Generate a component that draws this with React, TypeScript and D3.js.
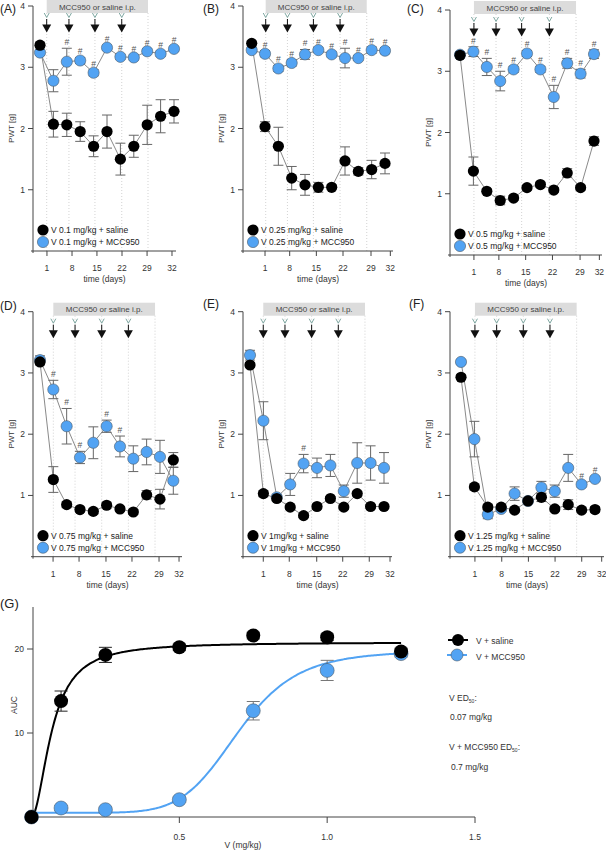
import React from "react";
import * as d3 from "d3";

// x tick labels (days) shared by panels A-F
const dayLabels = ["1", "8", "15", "22", "29", "32"];

// (A) V 0.1 mg/kg
const salineA = [3.36, 2.07, 2.06, 1.95, 1.71, 1.95, 1.5, 1.71, 2.06, 2.2, 2.28];
const salineErrA = [0.04, 0.21, 0.19, 0.16, 0.17, 0.27, 0.26, 0.18, 0.32, 0.27, 0.19];
const mccA = [3.24, 2.78, 3.09, 3.11, 2.91, 3.32, 3.17, 3.16, 3.26, 3.22, 3.3];
const mccErrA = [0.04, 0.18, 0.22, 0.05, 0.05, 0.04, 0.04, 0.04, 0.04, 0.04, 0.04];
const sigA = [2, 3, 4, 5, 6, 7, 8, 9, 10];

// (B) V 0.25 mg/kg
const salineB = [3.39, 2.03, 1.71, 1.19, 1.08, 1.04, 1.04, 1.47, 1.3, 1.33, 1.43];
const salineErrB = [0.04, 0.08, 0.31, 0.19, 0.17, 0.08, 0.04, 0.23, 0.06, 0.15, 0.17];
const mccB = [3.28, 3.22, 2.98, 3.07, 3.21, 3.28, 3.21, 3.15, 3.15, 3.28, 3.27];
const mccErrB = [0.04, 0.05, 0.05, 0.05, 0.08, 0.04, 0.04, 0.16, 0.04, 0.05, 0.05];
const sigB = [1, 2, 3, 4, 5, 6, 7, 8, 9, 10];

// (C) V 0.5 mg/kg
const salineC = [3.26, 1.37, 1.04, 0.89, 0.93, 1.1, 1.15, 1.06, 1.34, 1.1, 1.86];
const salineErrC = [0.05, 0.23, 0.04, 0.07, 0.04, 0.04, 0.04, 0.04, 0.07, 0.04, 0.07];
const mccC = [3.27, 3.32, 3.07, 2.84, 3.03, 3.29, 3.03, 2.58, 3.13, 2.96, 3.28];
const mccErrC = [0.05, 0.08, 0.14, 0.16, 0.05, 0.05, 0.05, 0.19, 0.08, 0.07, 0.07];
const sigC = [1, 2, 3, 4, 5, 6, 7, 8, 9, 10];

// (D) V 0.75 mg/kg
const salineD = [3.18, 1.26, 0.85, 0.77, 0.74, 0.84, 0.78, 0.73, 1.01, 0.94, 1.58];
const salineErrD = [0.05, 0.21, 0.05, 0.04, 0.04, 0.05, 0.04, 0.04, 0.07, 0.16, 0.12];
const mccD = [3.21, 2.73, 2.13, 1.62, 1.86, 2.13, 1.8, 1.6, 1.71, 1.63, 1.24];
const mccErrD = [0.07, 0.15, 0.29, 0.1, 0.26, 0.1, 0.17, 0.21, 0.21, 0.27, 0.22];
const sigD = [1, 2, 3, 5, 6];

// (E) V 1 mg/kg
const salineE = [3.13, 1.03, 0.95, 0.81, 0.67, 0.82, 0.95, 0.81, 1.03, 0.82, 0.82];
const salineErrE = [0.04, 0.05, 0.04, 0.03, 0.03, 0.04, 0.03, 0.03, 0.04, 0.03, 0.03];
const mccE = [3.29, 2.22, 0.97, 1.18, 1.52, 1.45, 1.49, 1.07, 1.53, 1.53, 1.45];
const mccErrE = [0.08, 0.31, 0.05, 0.18, 0.15, 0.16, 0.18, 0.1, 0.33, 0.28, 0.25];
const sigE = [4];

// (F) V 1.25 mg/kg
const salineF = [2.93, 1.14, 0.81, 0.81, 0.76, 0.91, 0.97, 0.78, 0.85, 0.76, 0.77];
const salineErrF = [0.04, 0.05, 0.04, 0.04, 0.04, 0.04, 0.07, 0.04, 0.08, 0.04, 0.05];
const mccF = [3.18, 1.92, 0.69, 0.78, 1.03, 0.91, 1.13, 1.07, 1.45, 1.18, 1.27];
const mccErrF = [0.04, 0.29, 0.07, 0.04, 0.11, 0.04, 0.1, 0.1, 0.22, 0.04, 0.04];
const sigF = [9, 10];

// (G) dose response, AUC
const doses = [0, 0.1, 0.25, 0.5, 0.75, 1.0, 1.25];
const aucSaline = [0, 13.8, 19.3, 20.2, 21.6, 21.4, 19.7];
const aucSalineErr = [0, 1.2, 0.9, 0.4, 0.4, 0.4, 0.4];
const aucMcc = [0, 1.07, 0.87, 2.06, 12.65, 17.45, 19.45];
const aucMccErr = [0, 0.3, 0.3, 0.3, 1.1, 1.2, 0.4];
// fitted curves (ED50 from the figure)
const fitSaline = { bottom: 0, top: 20.8, ed50: 0.07, hill: 1.9 };
const fitMcc = { bottom: 0.5, top: 19.8, ed50: 0.7, hill: 7 };

const BLUE = "#52a3f3";
const FONT = "'Liberation Sans', Arial, sans-serif";
const R = 5.6;

const panels = [
  { label: "(A)", lx: 0, ly: 13, dose: "0.1 mg/kg", saline: salineA, salineErr: salineErrA, mcc: mccA, mccErr: mccErrA, sig: sigA,
    axisX: 33, y4: 6, y0: 251, slot0: 40, step: 13.4, end: 176,
    ticks: [0.52, 2.39, 4.25, 6.12, 7.99, 9.85], inj: [0.5, 2.16, 4.1, 6.1, 8.06] },
  { label: "(B)", lx: 203, ly: 13, dose: "0.25 mg/kg", saline: salineB, salineErr: salineErrB, mcc: mccB, mccErr: mccErrB, sig: sigB,
    axisX: 243, y4: 6, y0: 251, slot0: 251.7, step: 13.33, end: 393,
    ticks: [1.0, 2.85, 4.85, 6.85, 8.95, 10.4], inj: [1.05, 2.68, 4.63, 6.63, 8.63] },
  { label: "(C)", lx: 407, ly: 13, dose: "0.5 mg/kg", saline: salineC, salineErr: salineErrC, mcc: mccC, mccErr: mccErrC, sig: sigC,
    axisX: 450, y4: 10, y0: 255, slot0: 460, step: 13.4, end: 602,
    ticks: [1.04, 2.9, 4.9, 6.9, 8.96, 10.4], inj: [1.04, 2.69, 4.6, 6.67, 8.66] },
  { label: "(D)", lx: 0, ly: 310, dose: "0.75 mg/kg", saline: salineD, salineErr: salineErrD, mcc: mccD, mccErr: mccErrD, sig: sigD,
    axisX: 33, y4: 311.7, y0: 556.7, slot0: 40, step: 13.33, end: 182,
    ticks: [0.98, 2.93, 4.95, 6.9, 8.93, 10.43], inj: [1.0, 2.63, 4.63, 6.63, 8.63] },
  { label: "(E)", lx: 203, ly: 308, dose: "1mg/kg", saline: salineE, salineErr: salineErrE, mcc: mccE, mccErr: mccErrE, sig: sigE,
    axisX: 243, y4: 311.7, y0: 556.7, slot0: 250, step: 13.4, end: 392,
    ticks: [0.99, 2.93, 4.98, 6.92, 8.9, 10.45], inj: [0.99, 2.61, 4.6, 6.59, 8.58] },
  { label: "(F)", lx: 409, ly: 308, dose: "1.25 mg/kg", saline: salineF, salineErr: salineErrF, mcc: mccF, mccErr: mccErrF, sig: sigF,
    axisX: 450, y4: 311.7, y0: 556.7, slot0: 461, step: 13.4, end: 604,
    ticks: [1.04, 3.04, 5.03, 7.02, 9.01, 10.5], inj: [1.04, 2.66, 4.65, 6.64, 8.63] },
];

const TimePanel = ({ p }) => {
  const x = d3.scaleLinear().domain([0, 10]).range([p.slot0, p.slot0 + 10 * p.step]);
  const y = d3.scaleLinear().domain([0, 4]).range([p.y0, p.y4]);
  const line = d3.line().x((d, i) => x(i)).y((d) => y(d));
  const boxTop = Math.max(0, p.y4 - 9);
  const boxBottom = boxTop + 13;
  const boxL = x(p.inj[0]);
  const boxR = x(p.inj[p.inj.length - 1]);

  const errBars = (vals, errs, color) =>
    vals.map((v, i) => (
      <g key={i} stroke={color} strokeWidth={1}>
        <line x1={x(i)} x2={x(i)} y1={y(v - errs[i])} y2={y(v + errs[i])} />
        <line x1={x(i) - 5} x2={x(i) + 5} y1={y(v - errs[i])} y2={y(v - errs[i])} />
        <line x1={x(i) - 5} x2={x(i) + 5} y1={y(v + errs[i])} y2={y(v + errs[i])} />
      </g>
    ));

  return (
    <g>
      <text x={p.lx} y={p.ly} fontSize={12} fill="#222">{p.label}</text>
      {/* treatment window */}
      <rect x={boxL} y={boxTop} width={boxR - boxL} height={boxBottom - boxTop} fill="#dcdcdc" />
      <text x={(boxL + boxR) / 2} y={boxTop + 9.5} fontSize={8} fill="#444" textAnchor="middle">MCC950 or saline i.p.</text>
      {p.inj.map((s, i) => (
        <line key={i} x1={x(s)} x2={x(s)} y1={boxBottom} y2={p.y0} stroke="#c8c8c8" strokeWidth={0.8} strokeDasharray="1,2" />
      ))}
      {p.inj.slice(0, 4).map((s, i) => {
        const cx = x(s);
        return (
          <g key={i}>
            <path d={`M${cx - 2.5},${p.y4 + 7} L${cx},${p.y4 + 11.5} L${cx + 2.5},${p.y4 + 7}`} fill="none" stroke="#7fa8a2" strokeWidth={1} />
            <line x1={cx} x2={cx} y1={p.y4 + 13} y2={p.y4 + 19} stroke="#111" strokeWidth={1} />
            <path d={`M${cx - 4.5},${p.y4 + 18.5} L${cx + 4.5},${p.y4 + 18.5} L${cx},${p.y4 + 26.5} Z`} fill="#111" />
          </g>
        );
      })}
      {/* axes */}
      <line x1={p.axisX} x2={p.axisX} y1={p.y4} y2={p.y0 + 2} stroke="#444" strokeWidth={1} />
      {y.ticks(4).filter((t) => t > 0).map((t) => (
        <g key={t}>
          <line x1={p.axisX - 5} x2={p.axisX} y1={y(t)} y2={y(t)} stroke="#444" />
          <text x={p.axisX - 8} y={y(t) + 3} fontSize={8.5} textAnchor="end" fill="#333">{t}</text>
        </g>
      ))}
      <line x1={p.axisX - 2} x2={p.end} y1={p.y0} y2={p.y0} stroke="#444" strokeWidth={1} />
      {p.ticks.map((s, i) => (
        <g key={i}>
          <line x1={x(s)} x2={x(s)} y1={p.y0} y2={p.y0 + 5} stroke="#444" />
          <text x={x(s)} y={p.y0 + 20} fontSize={8.5} textAnchor="middle" fill="#333">{dayLabels[i]}</text>
        </g>
      ))}
      <text x={(p.axisX + p.end) / 2} y={p.y0 + 31} fontSize={8.5} textAnchor="middle" fill="#333">time (days)</text>
      <text transform={`translate(${p.axisX - 19},${(p.y0 + p.y4) / 2}) rotate(-90)`} fontSize={8} textAnchor="middle" fill="#333">PWT [g]</text>
      {/* series */}
      <path d={line(p.mcc)} fill="none" stroke="#8a8a8a" strokeWidth={1} />
      <path d={line(p.saline)} fill="none" stroke="#8a8a8a" strokeWidth={1} />
      {errBars(p.mcc, p.mccErr, "#666")}
      {errBars(p.saline, p.salineErr, "#666")}
      {p.sig.map((i) => (
        <text key={i} x={x(i)} y={y(p.mcc[i] + p.mccErr[i]) - 3} fontSize={8.5} textAnchor="middle" fill="#555">#</text>
      ))}
      {p.mcc.map((v, i) => (
        <circle key={i} cx={x(i)} cy={y(v)} r={R} fill={BLUE} stroke="#4a5a6a" strokeWidth={0.6} />
      ))}
      {p.saline.map((v, i) => (
        <circle key={i} cx={x(i)} cy={y(v)} r={R} fill="#000" />
      ))}
      {/* legend */}
      <circle cx={p.axisX + 10} cy={p.y0 - 21} r={R} fill="#000" />
      <text x={p.axisX + 18} y={p.y0 - 18} fontSize={8.5} fill="#222">{`V ${p.dose} + saline`}</text>
      <circle cx={p.axisX + 10} cy={p.y0 - 9} r={R} fill={BLUE} stroke="#4a5a6a" strokeWidth={0.6} />
      <text x={p.axisX + 18} y={p.y0 - 6} fontSize={8.5} fill="#222">{`V ${p.dose} + MCC950`}</text>
    </g>
  );
};

const hill = (f) => (v) => (v <= 0 ? f.bottom : f.bottom + (f.top - f.bottom) / (1 + Math.pow(f.ed50 / v, f.hill)));

const DosePanel = () => {
  const x = d3.scaleLinear().domain([0, 1.5]).range([31.5, 475]);
  const y = d3.scaleLinear().domain([0, 25]).range([817, 607]);
  const grid = d3.range(0, 1.2501, 0.005);
  const curve = (f) => d3.line().x((v) => x(v)).y((v) => y(hill(f)(v))).curve(d3.curveMonotoneX)(grid);
  const errBars = (vals, errs, color) =>
    vals.map((v, i) =>
      errs[i] > 0 ? (
        <g key={i} stroke={color} strokeWidth={1}>
          <line x1={x(doses[i])} x2={x(doses[i])} y1={y(v - errs[i])} y2={y(v + errs[i])} />
          <line x1={x(doses[i]) - 6.5} x2={x(doses[i]) + 6.5} y1={y(v - errs[i])} y2={y(v - errs[i])} />
          <line x1={x(doses[i]) - 6.5} x2={x(doses[i]) + 6.5} y1={y(v + errs[i])} y2={y(v + errs[i])} />
        </g>
      ) : null
    );
  return (
    <g>
      <text x={0} y={608} fontSize={13} fill="#222">(G)</text>
      <line x1={33} x2={33} y1={607} y2={817} stroke="#444" />
      {[10, 20].map((t) => (
        <g key={t}>
          <line x1={27} x2={33} y1={y(t)} y2={y(t)} stroke="#444" />
          <text x={24} y={y(t) + 3} fontSize={8.5} textAnchor="end" fill="#333">{t}</text>
        </g>
      ))}
      <line x1={33} x2={475} y1={817} y2={817} stroke="#444" />
      {[0.5, 1.0, 1.5].map((t) => (
        <g key={t}>
          <line x1={x(t)} x2={x(t)} y1={817} y2={823} stroke="#444" />
          <text x={x(t)} y={840} fontSize={8.5} textAnchor="middle" fill="#333">{t.toFixed(1)}</text>
        </g>
      ))}
      <text x={243} y={848} fontSize={8.5} textAnchor="middle" fill="#333">V (mg/kg)</text>
      <text transform="translate(17,705) rotate(-90)" fontSize={8.5} textAnchor="middle" fill="#333">AUC</text>
      <path d={curve(fitMcc)} fill="none" stroke={BLUE} strokeWidth={2} />
      <path d={curve(fitSaline)} fill="none" stroke="#000" strokeWidth={2} />
      {errBars(aucMcc, aucMccErr, "#777")}
      {errBars(aucSaline, aucSalineErr, "#222")}
      {aucMcc.map((v, i) => (
        <circle key={i} cx={x(doses[i])} cy={y(v)} r={7} fill={BLUE} stroke="#4a5a6a" strokeWidth={0.6} />
      ))}
      {aucSaline.map((v, i) => (
        <circle key={i} cx={x(doses[i])} cy={y(v)} r={7} fill="#000" />
      ))}
      {/* legend */}
      <line x1={448} x2={468} y1={640} y2={640} stroke="#000" strokeWidth={2} />
      <circle cx={458} cy={640} r={6} fill="#000" />
      <text x={476} y={644} fontSize={8.5} fill="#333">V + saline</text>
      <line x1={447} x2={467} y1={655} y2={655} stroke={BLUE} strokeWidth={2} />
      <circle cx={457} cy={655} r={6} fill={BLUE} stroke="#4a5a6a" strokeWidth={0.6} />
      <text x={476} y={660} fontSize={8.5} fill="#333">V + MCC950</text>
      <text x={449} y={701} fontSize={8.5} fill="#333">V ED<tspan fontSize={5} dy={2}>50</tspan><tspan dy={-2}>:</tspan></text>
      <text x={450} y={720} fontSize={8.5} fill="#333">{`${fitSaline.ed50} mg/kg`}</text>
      <text x={449} y={750} fontSize={8.5} fill="#333">V + MCC950 ED<tspan fontSize={5} dy={2}>50</tspan><tspan dy={-2}>:</tspan></text>
      <text x={451} y={770} fontSize={8.5} fill="#333">{`${fitMcc.ed50} mg/kg`}</text>
    </g>
  );
};

const App = () => (
  <svg width={606} height={850} style={{ position: "absolute", left: 0, top: 0, background: "#fff" }} fontFamily={FONT}>
    {panels.map((p) => (
      <TimePanel key={p.label} p={p} />
    ))}
    <DosePanel />
  </svg>
);

export default App;
